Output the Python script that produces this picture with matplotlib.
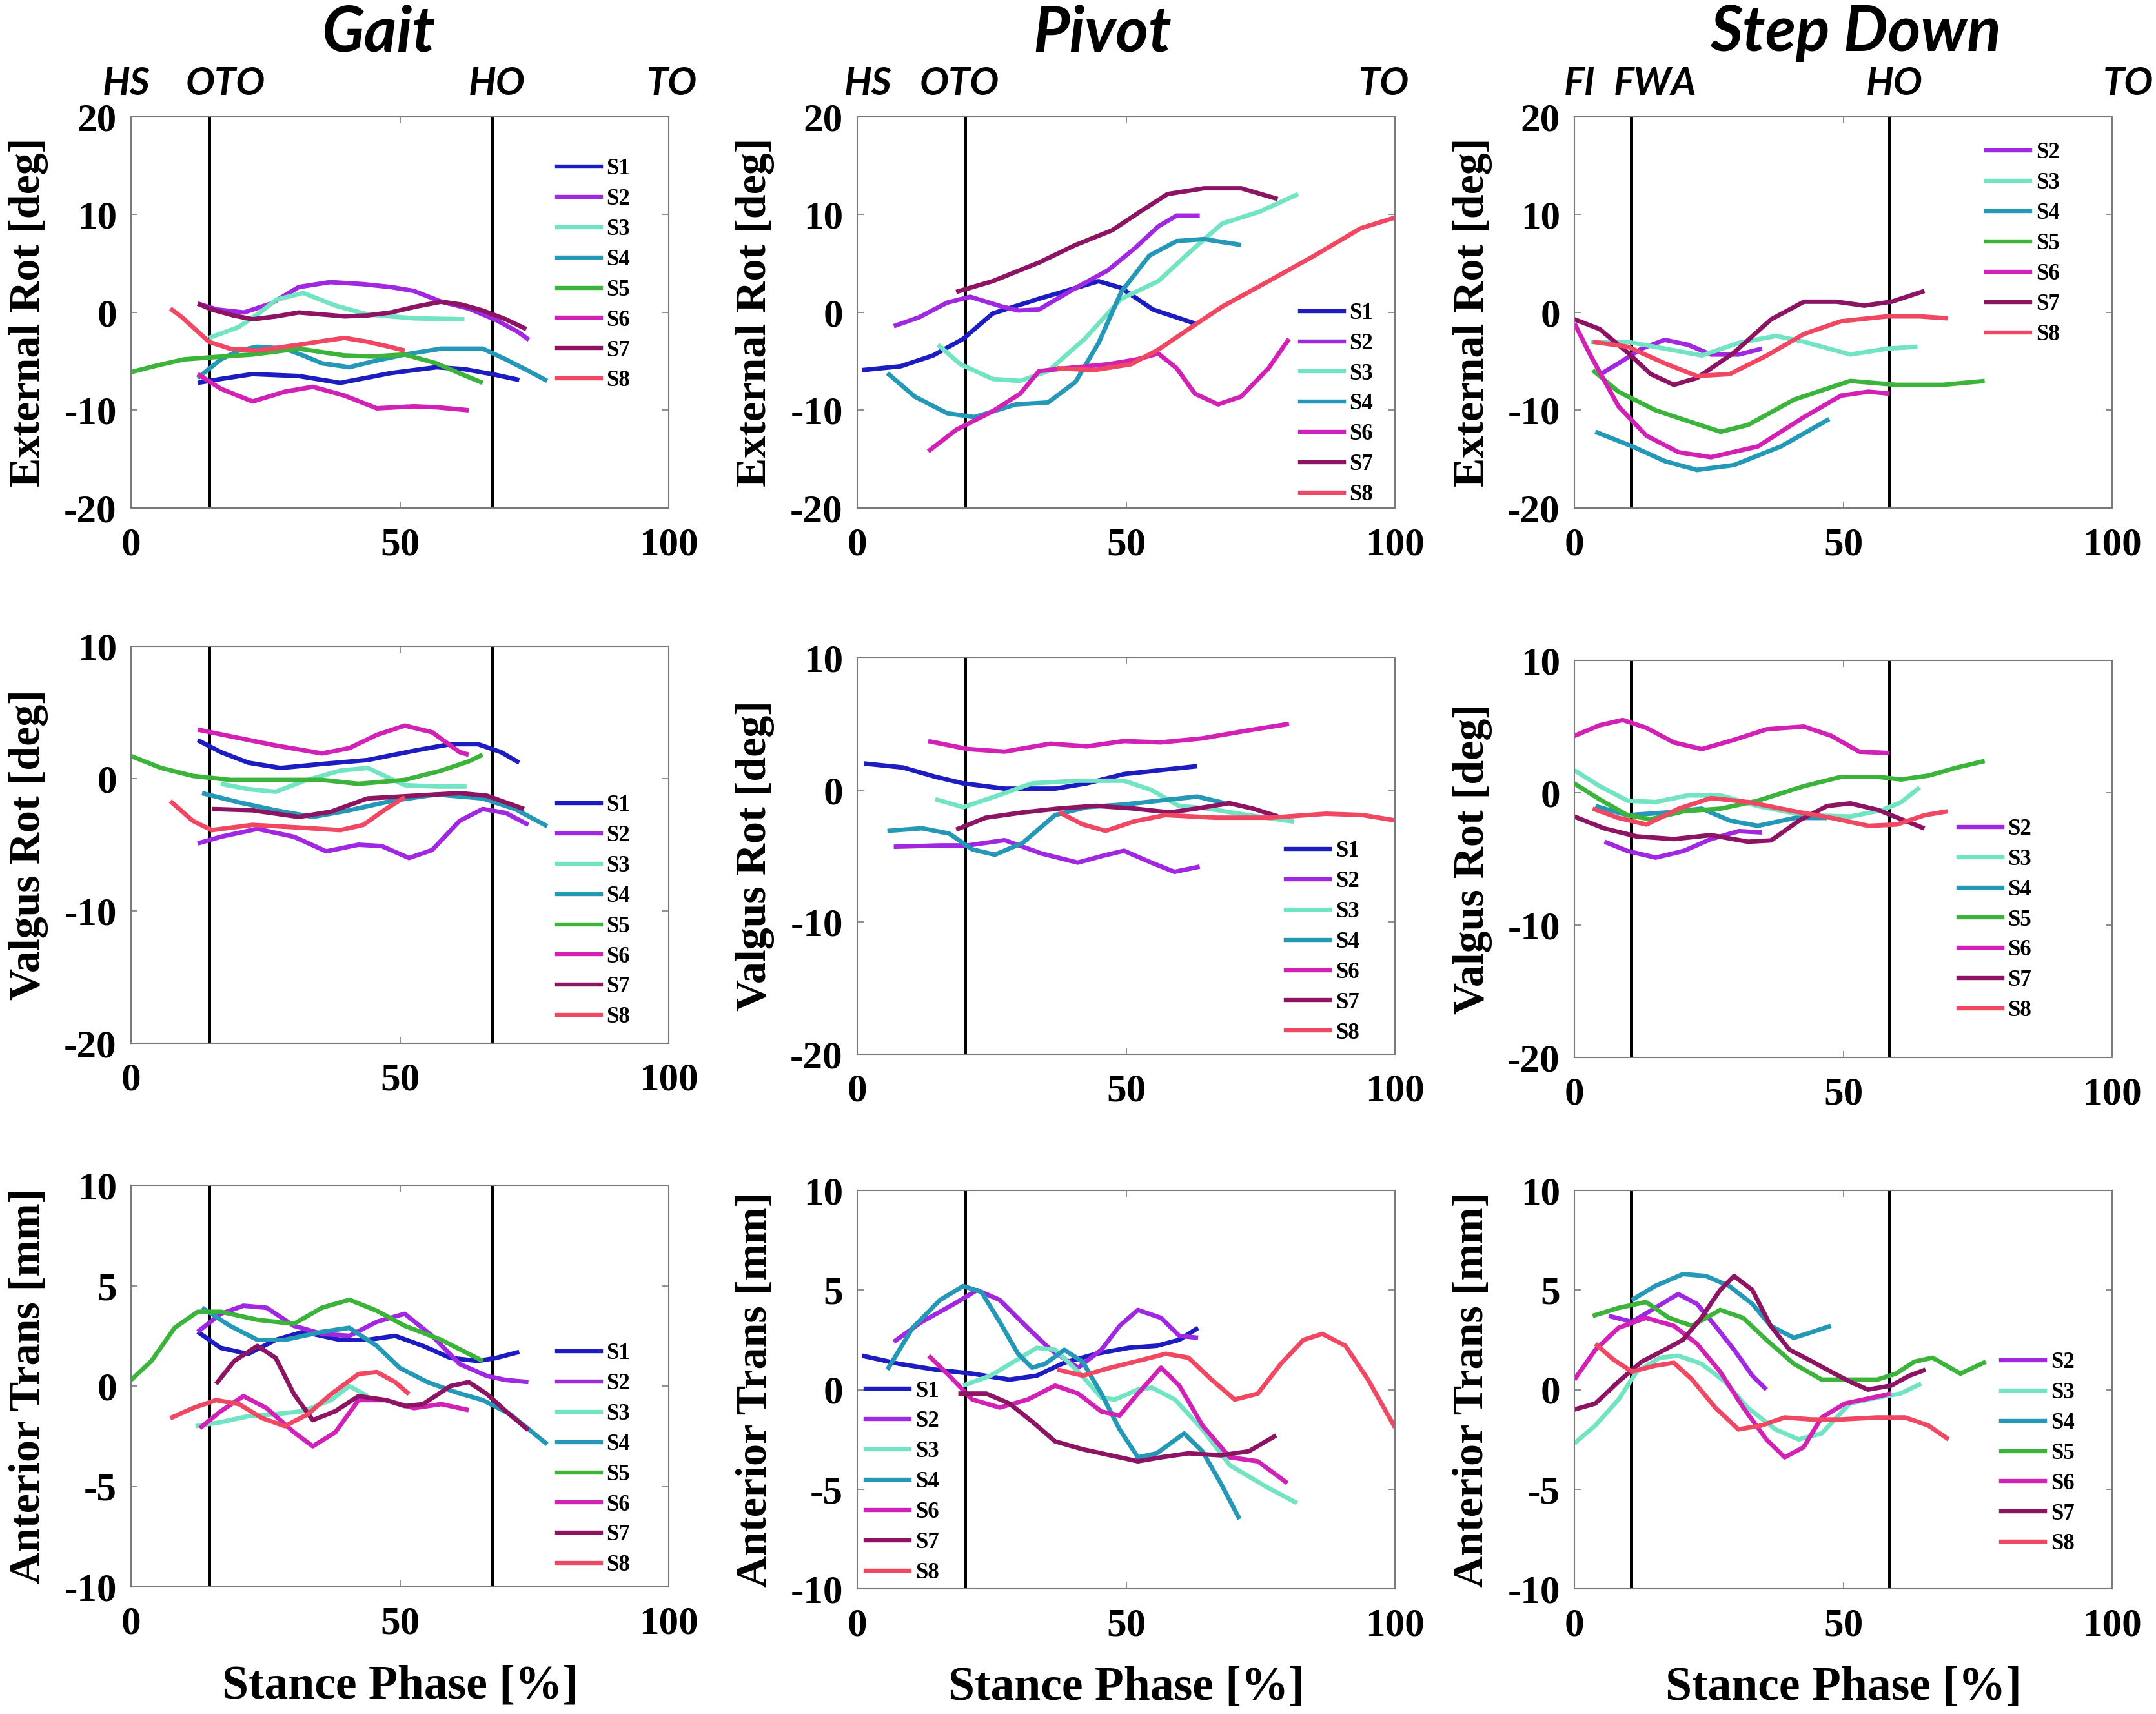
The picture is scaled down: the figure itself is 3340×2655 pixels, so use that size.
import matplotlib
matplotlib.use('Agg')
import matplotlib.pyplot as plt
from matplotlib.lines import Line2D

# ---------------- DATA ----------------
SUBJECTS = ['S1', 'S2', 'S3', 'S4', 'S5', 'S6', 'S7', 'S8']
TASKS = ['Gait', 'Pivot', 'Step Down']
MEASURES = ['External Rot [deg]', 'Valgus Rot [deg]', 'Anterior Trans [mm]']
XTICKS = [0, 50, 100]
YTICKS_ROT = [-20, -10, 0, 10, 20]
YTICKS_VAL = [-20, -10, 0, 10]
YTICKS_AT = [-10, -5, 0, 5, 10]

# event lines (stance %) and event labels
GAIT_EVENT_LINES = [14.5, 67.1]
PIVOT_EVENT_LINES = [20.0]
SD_EVENT_LINES = [10.6, 58.6]
GAIT_EVENT_NAMES = ['HS', 'OTO', 'HO', 'TO']
GAIT_EVENT_POS = [-0.9, 17.5, 68.0, 100.6]
PIVOT_EVENT_NAMES = ['HS', 'OTO', 'TO']
PIVOT_EVENT_POS = [2.0, 19.0, 98.0]
SD_EVENT_NAMES = ['FI', 'FWA', 'HO', 'TO']
SD_EVENT_POS = [1.0, 15.0, 59.5, 103.0]

# ---- Gait, External Rot ----
GAIT_ER_X_S1 = [12.4, 16.7, 22.6, 31.2, 38.9, 48.3, 56.8, 62.0, 67.1, 72.2]
GAIT_ER_Y_S1 = [-7.2, -6.8, -6.3, -6.5, -7.2, -6.2, -5.6, -5.8, -6.3, -6.9]
GAIT_ER_X_S2 = [12.4, 16.0, 21.0, 26.0, 31.2, 37.0, 43.0, 48.3, 52.6, 57.7, 62.8, 68.0, 72.0, 74.0]
GAIT_ER_Y_S2 = [0.9, 0.3, 0.0, 0.9, 2.6, 3.1, 2.9, 2.6, 2.2, 1.1, 0.4, -0.8, -2.0, -2.8]
GAIT_ER_X_S3 = [14.5, 20.0, 24.0, 27.0, 32.0, 38.0, 44.0, 52.6, 62.0]
GAIT_ER_Y_S3 = [-2.6, -1.5, 0.0, 1.3, 2.0, 0.7, -0.2, -0.6, -0.7]
GAIT_ER_X_S4 = [12.4, 16.7, 20.0, 23.5, 28.6, 32.0, 35.5, 40.6, 45.0, 50.9, 57.7, 65.4, 69.7, 74.0, 77.4]
GAIT_ER_Y_S4 = [-6.7, -4.8, -3.9, -3.5, -3.7, -4.4, -5.2, -5.6, -5.0, -4.3, -3.7, -3.7, -4.8, -6.0, -7.0]
GAIT_ER_X_S5 = [0, 5.0, 9.8, 14.5, 22.6, 31.2, 39.7, 45.0, 50.9, 56.8, 61.0, 65.4]
GAIT_ER_Y_S5 = [-6.1, -5.4, -4.8, -4.6, -4.3, -3.7, -4.4, -4.5, -4.3, -5.2, -6.2, -7.2]
GAIT_ER_X_S6 = [12.4, 16.7, 22.6, 28.6, 33.8, 39.7, 45.7, 52.6, 57.0, 62.8]
GAIT_ER_Y_S6 = [-6.3, -7.8, -9.1, -8.1, -7.6, -8.5, -9.8, -9.6, -9.7, -10.0]
GAIT_ER_X_S7 = [12.4, 15.0, 19.0, 22.6, 27.0, 31.2, 35.5, 39.7, 44.0, 48.3, 53.0, 57.7, 61.5, 65.4, 69.7, 73.5]
GAIT_ER_Y_S7 = [0.9, 0.3, -0.3, -0.7, -0.4, 0.0, -0.2, -0.4, -0.3, 0.0, 0.6, 1.1, 0.8, 0.2, -0.7, -1.7]
GAIT_ER_X_S8 = [7.3, 9.5, 11.5, 14.5, 18.4, 23.5, 31.2, 36.0, 39.7, 44.0, 48.0, 50.9]
GAIT_ER_Y_S8 = [0.4, -0.5, -1.5, -3.0, -3.7, -3.9, -3.3, -2.9, -2.6, -3.0, -3.5, -3.9]

# ---- Pivot, External Rot ----
PIV_ER_X_S1 = [0.9, 8.1, 14.1, 19.7, 25.2, 33.8, 40.0, 44.9, 49.1, 55.0, 63.2]
PIV_ER_Y_S1 = [-5.9, -5.5, -4.4, -2.7, -0.1, 1.4, 2.4, 3.2, 2.5, 0.3, -1.2]
PIV_ER_X_S2 = [6.8, 11.5, 16.7, 21.0, 26.9, 30.0, 33.8, 40.6, 46.6, 51.7, 56.0, 59.4, 63.7]
PIV_ER_Y_S2 = [-1.4, -0.5, 1.0, 1.6, 0.6, 0.2, 0.3, 2.5, 4.3, 6.6, 8.8, 9.9, 9.9]
PIV_ER_X_S3 = [15.0, 19.2, 25.2, 30.3, 35.5, 42.3, 49.1, 56.0, 61.9, 67.9, 74.8, 82.0]
PIV_ER_Y_S3 = [-3.3, -5.3, -6.8, -7.0, -6.0, -2.7, 1.4, 3.2, 6.2, 9.1, 10.3, 12.1]
PIV_ER_X_S4 = [5.6, 10.7, 16.7, 21.8, 29.5, 35.5, 40.6, 44.9, 49.1, 54.3, 59.4, 64.5, 71.4]
PIV_ER_Y_S4 = [-6.2, -8.6, -10.3, -10.7, -9.4, -9.2, -7.1, -3.1, 2.1, 5.8, 7.3, 7.5, 6.9]
PIV_ER_X_S6 = [13.2, 18.4, 25.2, 30.3, 33.8, 38.9, 46.6, 52.0, 56.0, 59.4, 62.8, 67.1, 71.4, 76.5, 80.3]
PIV_ER_Y_S6 = [-14.2, -12.0, -10.1, -8.3, -6.0, -5.7, -5.3, -4.8, -4.2, -5.7, -8.3, -9.4, -8.6, -5.7, -2.7]
PIV_ER_X_S7 = [18.4, 25.2, 33.8, 40.6, 47.4, 52.6, 57.7, 64.5, 71.4, 78.2]
PIV_ER_Y_S7 = [2.1, 3.2, 5.1, 6.9, 8.4, 10.3, 12.1, 12.7, 12.7, 11.6]
PIV_ER_X_S8 = [37.2, 44.0, 50.9, 56.0, 61.9, 67.9, 76.5, 85.0, 93.6, 100.0]
PIV_ER_Y_S8 = [-5.7, -5.9, -5.3, -3.8, -1.6, 0.6, 3.2, 5.8, 8.6, 9.7]

# ---- Step Down, External Rot ----
SD_ER_X_S2 = [4.3, 8.2, 12.5, 16.8, 21.1, 25.4, 30.6, 34.9]
SD_ER_Y_S2 = [-6.5, -5.2, -3.7, -2.8, -3.3, -4.3, -4.3, -3.7]
SD_ER_X_S3 = [3.0, 9.9, 16.8, 23.7, 30.6, 37.5, 42.7, 51.3, 58.2, 63.8]
SD_ER_Y_S3 = [-3.0, -3.0, -3.7, -4.4, -3.1, -2.4, -3.0, -4.3, -3.7, -3.5]
SD_ER_X_S4 = [3.9, 10.8, 16.8, 22.8, 29.7, 38.4, 47.4]
SD_ER_Y_S4 = [-12.2, -13.7, -15.2, -16.1, -15.6, -13.7, -10.9]
SD_ER_X_S5 = [3.4, 8.2, 15.1, 21.1, 27.2, 32.3, 40.9, 51.3, 59.9, 68.5, 76.3]
SD_ER_Y_S5 = [-5.9, -8.1, -10.0, -11.1, -12.2, -11.5, -8.9, -7.0, -7.4, -7.4, -7.0]
SD_ER_X_S6 = [0, 3.0, 8.2, 13.4, 19.4, 25.4, 34.1, 42.7, 49.6, 54.7, 58.6]
SD_ER_Y_S6 = [-1.1, -4.4, -9.6, -12.6, -14.3, -14.8, -13.7, -10.7, -8.5, -8.1, -8.3]
SD_ER_X_S7 = [0, 4.7, 9.9, 14.2, 18.5, 22.8, 29.7, 36.6, 42.7, 48.7, 53.9, 59.0, 65.1]
SD_ER_Y_S7 = [-0.7, -1.7, -4.1, -6.3, -7.4, -6.7, -4.1, -0.7, 1.1, 1.1, 0.7, 1.1, 2.2]
SD_ER_X_S8 = [3.4, 9.9, 16.8, 22.8, 28.9, 35.8, 42.7, 49.6, 58.2, 64.2, 69.4]
SD_ER_Y_S8 = [-3.0, -3.5, -5.2, -6.5, -6.3, -4.4, -2.2, -0.9, -0.4, -0.4, -0.6]

# ---- Gait, Valgus Rot ----
GAIT_VR_X_S1 = [12.4, 16.7, 21.8, 27.8, 35.5, 44.0, 52.6, 59.4, 64.5, 68.8, 72.2]
GAIT_VR_Y_S1 = [2.9, 2.0, 1.2, 0.8, 1.1, 1.4, 2.1, 2.6, 2.6, 2.0, 1.2]
GAIT_VR_X_S2 = [12.4, 16.7, 23.5, 30.3, 36.3, 42.3, 46.6, 51.7, 56.0, 61.1, 65.4, 69.7, 73.9]
GAIT_VR_Y_S2 = [-4.9, -4.4, -3.8, -4.4, -5.5, -5.0, -5.1, -6.0, -5.4, -3.2, -2.3, -2.6, -3.5]
GAIT_VR_X_S3 = [16.7, 21.8, 26.9, 32.0, 38.9, 44.0, 50.9, 56.8, 62.4]
GAIT_VR_Y_S3 = [-0.4, -0.8, -1.0, -0.2, 0.6, 0.8, -0.5, -0.6, -0.6]
GAIT_VR_X_S4 = [13.2, 20.1, 26.9, 33.8, 40.6, 48.3, 56.8, 65.4, 71.4, 77.4]
GAIT_VR_Y_S4 = [-1.1, -1.8, -2.4, -2.9, -2.4, -1.7, -1.2, -1.5, -2.3, -3.6]
GAIT_VR_X_S5 = [0, 5.6, 11.5, 18.4, 26.9, 35.5, 42.3, 50.9, 57.7, 62.8, 65.4]
GAIT_VR_Y_S5 = [1.7, 0.8, 0.2, -0.1, -0.1, -0.1, -0.4, -0.1, 0.6, 1.3, 1.8]
GAIT_VR_X_S6 = [12.4, 18.4, 26.9, 35.5, 40.6, 45.7, 50.9, 56.0, 61.1, 62.8]
GAIT_VR_Y_S6 = [3.7, 3.2, 2.5, 1.9, 2.3, 3.3, 4.0, 3.5, 2.0, 1.8]
GAIT_VR_X_S7 = [15.0, 22.6, 31.2, 37.2, 44.0, 52.6, 61.1, 66.2, 73.1]
GAIT_VR_Y_S7 = [-2.3, -2.4, -2.9, -2.5, -1.5, -1.3, -1.1, -1.3, -2.3]
GAIT_VR_X_S8 = [7.3, 11.5, 15.0, 22.6, 31.2, 38.9, 43.2, 47.4, 50.9]
GAIT_VR_Y_S8 = [-1.7, -3.2, -3.9, -3.5, -3.7, -3.9, -3.5, -2.3, -1.4]

# ---- Pivot, Valgus Rot ----
PIV_VR_X_S1 = [1.3, 8.5, 14.5, 19.7, 27.4, 36.8, 42.7, 49.6, 56.4, 63.2]
PIV_VR_Y_S1 = [2.0, 1.7, 1.0, 0.5, 0.1, 0.1, 0.5, 1.2, 1.5, 1.8]
PIV_VR_X_S2 = [6.8, 15.4, 20.5, 27.4, 34.2, 41.0, 45.5, 49.6, 54.7, 59.0, 63.7]
PIV_VR_Y_S2 = [-4.3, -4.2, -4.2, -3.8, -4.8, -5.5, -5.0, -4.6, -5.5, -6.2, -5.8]
PIV_VR_X_S3 = [14.5, 19.7, 25.6, 32.5, 41.0, 49.6, 54.7, 59.8, 65.0, 72.6, 81.2]
PIV_VR_Y_S3 = [-0.7, -1.3, -0.5, 0.5, 0.7, 0.7, 0.0, -1.2, -1.4, -1.9, -2.4]
PIV_VR_X_S4 = [5.6, 12.0, 17.1, 21.4, 25.6, 30.8, 36.8, 42.7, 49.6, 56.4, 63.2, 68.4]
PIV_VR_Y_S4 = [-3.1, -2.9, -3.3, -4.5, -4.9, -4.0, -1.9, -1.3, -1.1, -0.8, -0.5, -1.0]
PIV_VR_X_S6 = [13.2, 20.5, 27.4, 35.9, 42.7, 49.6, 56.4, 64.1, 72.6, 80.3]
PIV_VR_Y_S6 = [3.7, 3.1, 2.9, 3.5, 3.3, 3.7, 3.6, 3.9, 4.5, 5.0]
PIV_VR_X_S7 = [18.4, 23.9, 30.8, 37.6, 44.4, 51.3, 58.1, 63.2, 69.2, 73.5, 78.2]
PIV_VR_Y_S7 = [-3.0, -2.1, -1.7, -1.4, -1.2, -1.4, -1.7, -1.4, -1.0, -1.4, -2.0]
PIV_VR_X_S8 = [37.6, 41.9, 46.2, 51.3, 57.3, 66.7, 76.9, 87.2, 94.0, 100.0]
PIV_VR_Y_S8 = [-1.7, -2.6, -3.1, -2.4, -1.9, -2.1, -2.1, -1.8, -1.9, -2.3]

# ---- Step Down, Valgus Rot ----
SD_VR_X_S2 = [5.6, 9.9, 15.1, 20.3, 25.4, 30.6, 34.9]
SD_VR_Y_S2 = [-3.7, -4.4, -4.9, -4.4, -3.5, -2.9, -3.0]
SD_VR_X_S3 = [0, 4.7, 9.9, 15.1, 21.1, 27.2, 34.1, 42.7, 51.3, 57.3, 60.8, 64.2]
SD_VR_Y_S3 = [1.7, 0.5, -0.6, -0.7, -0.2, -0.2, -1.0, -1.7, -1.8, -1.3, -0.7, 0.4]
SD_VR_X_S4 = [3.9, 9.9, 16.8, 23.7, 28.9, 34.1, 41.0, 47.0]
SD_VR_Y_S4 = [-1.0, -1.7, -1.5, -1.2, -2.1, -2.5, -1.9, -1.9]
SD_VR_X_S5 = [0, 4.7, 9.9, 14.2, 20.3, 27.2, 34.1, 42.7, 49.6, 56.5, 60.8, 65.9, 71.1, 76.3]
SD_VR_Y_S5 = [0.7, -0.5, -1.7, -2.0, -1.4, -1.2, -0.6, 0.5, 1.2, 1.2, 1.0, 1.3, 1.9, 2.4]
SD_VR_X_S6 = [0, 4.7, 9.0, 13.4, 18.5, 23.7, 29.7, 35.8, 42.7, 47.8, 53.0, 58.6]
SD_VR_Y_S6 = [4.3, 5.1, 5.5, 4.9, 3.8, 3.3, 4.0, 4.8, 5.0, 4.3, 3.1, 3.0]
SD_VR_X_S7 = [0, 5.6, 11.6, 18.5, 25.4, 32.3, 36.6, 41.8, 47.0, 51.3, 56.5, 60.8, 65.1]
SD_VR_Y_S7 = [-1.8, -2.7, -3.3, -3.5, -3.2, -3.7, -3.6, -2.1, -1.0, -0.8, -1.3, -2.0, -2.7]
SD_VR_X_S8 = [3.4, 8.2, 13.4, 19.4, 25.4, 32.3, 40.9, 47.8, 54.7, 59.9, 65.1, 69.4]
SD_VR_Y_S8 = [-1.2, -1.9, -2.4, -1.2, -0.4, -0.7, -1.4, -1.9, -2.5, -2.4, -1.7, -1.4]

# ---- Gait, Anterior Trans ----
GAIT_AT_X_S1 = [12.4, 16.7, 21.8, 26.9, 32.0, 38.9, 44.0, 49.1, 54.3, 59.4, 64.5, 67.9, 72.2]
GAIT_AT_Y_S1 = [2.7, 1.9, 1.6, 2.3, 2.7, 2.3, 2.3, 2.5, 2.0, 1.4, 1.25, 1.4, 1.7]
GAIT_AT_X_S2 = [12.4, 16.7, 20.9, 25.2, 30.3, 35.5, 40.6, 45.7, 50.9, 56.0, 61.1, 66.2, 69.7, 73.9]
GAIT_AT_Y_S2 = [2.7, 3.6, 4.0, 3.9, 3.0, 2.6, 2.5, 3.2, 3.6, 2.5, 1.1, 0.5, 0.3, 0.2]
GAIT_AT_X_S3 = [12.0, 16.7, 21.8, 26.9, 32.0, 37.2, 40.6, 44.0]
GAIT_AT_Y_S3 = [-2.0, -1.8, -1.5, -1.4, -1.25, -0.7, 0.0, -0.5]
GAIT_AT_X_S4 = [13.2, 18.4, 23.5, 28.6, 35.5, 40.6, 45.7, 50.0, 55.1, 60.3, 65.4, 70.5, 77.4]
GAIT_AT_Y_S4 = [3.9, 3.0, 2.3, 2.3, 2.7, 2.9, 2.0, 0.9, 0.2, -0.3, -0.7, -1.4, -2.9]
GAIT_AT_X_S5 = [0, 3.8, 8.1, 12.4, 16.7, 23.5, 30.3, 35.5, 40.6, 45.7, 50.9, 57.7, 65.4]
GAIT_AT_Y_S5 = [0.3, 1.25, 2.9, 3.7, 3.7, 3.3, 3.1, 3.9, 4.3, 3.75, 3.0, 2.3, 1.25]
GAIT_AT_X_S6 = [12.8, 16.7, 20.9, 25.2, 30.3, 33.8, 38.0, 42.3, 47.4, 52.6, 57.7, 62.8]
GAIT_AT_Y_S6 = [-2.1, -1.25, -0.5, -1.1, -2.3, -3.0, -2.3, -0.7, -0.7, -1.1, -0.9, -1.2]
GAIT_AT_X_S7 = [15.8, 19.2, 23.5, 26.9, 30.3, 33.8, 38.0, 42.3, 47.4, 50.9, 54.3, 59.4, 62.8, 66.2, 69.7, 73.9]
GAIT_AT_Y_S7 = [0.1, 1.25, 2.0, 1.4, -0.4, -1.7, -1.25, -0.5, -0.7, -1.0, -0.9, 0.0, 0.2, -0.4, -1.25, -2.2]
GAIT_AT_X_S8 = [7.3, 11.5, 15.8, 20.1, 24.4, 28.6, 32.9, 37.2, 42.3, 45.7, 49.1, 51.7]
GAIT_AT_Y_S8 = [-1.6, -1.1, -0.7, -0.9, -1.6, -2.0, -1.4, -0.4, 0.6, 0.7, 0.2, -0.4]

# ---- Pivot, Anterior Trans ----
PIV_AT_X_S1 = [0.9, 7.7, 14.6, 21.4, 28.3, 33.4, 38.5, 44.5, 50.5, 55.7, 59.9, 63.4]
PIV_AT_Y_S1 = [1.7, 1.3, 1.0, 0.8, 0.5, 0.7, 1.35, 1.8, 2.1, 2.2, 2.5, 3.1]
PIV_AT_X_S2 = [6.8, 12.0, 18.0, 22.3, 26.5, 31.7, 36.0, 41.1, 45.4, 48.8, 52.2, 56.5, 59.9, 63.4]
PIV_AT_Y_S2 = [2.4, 3.4, 4.3, 5.0, 4.5, 3.1, 2.0, 1.1, 2.0, 3.2, 4.0, 3.6, 2.7, 2.6]
PIV_AT_X_S3 = [19.7, 24.8, 29.1, 33.4, 36.8, 41.1, 45.4, 47.9, 52.2, 54.8, 59.1, 64.2, 69.3, 76.2, 81.8]
PIV_AT_Y_S3 = [0.2, 0.7, 1.4, 2.1, 2.0, 0.9, -0.4, -0.5, 0.0, 0.1, -0.5, -2.0, -3.8, -4.9, -5.7]
PIV_AT_X_S4 = [5.6, 10.3, 15.4, 19.7, 23.1, 26.5, 29.9, 32.5, 35.0, 38.5, 41.9, 45.4, 48.8, 52.2, 55.7, 60.8, 64.2, 67.6, 71.1]
PIV_AT_Y_S4 = [1.0, 3.1, 4.5, 5.2, 4.9, 3.4, 1.8, 1.1, 1.3, 2.0, 1.4, -0.2, -2.0, -3.4, -3.2, -2.2, -3.1, -4.7, -6.5]
PIV_AT_X_S6 = [13.3, 17.1, 21.4, 26.5, 31.7, 36.8, 41.1, 45.4, 48.8, 52.2, 56.5, 59.9, 64.2, 69.3, 74.5, 80.0]
PIV_AT_Y_S6 = [1.7, 0.7, -0.5, -0.9, -0.5, 0.2, -0.2, -1.1, -1.3, -0.2, 1.1, 0.2, -1.8, -3.4, -3.6, -4.7]
PIV_AT_X_S7 = [18.8, 24.0, 28.3, 32.5, 36.8, 42.0, 47.1, 52.2, 56.5, 61.6, 67.6, 72.8, 77.9]
PIV_AT_Y_S7 = [-0.2, -0.2, -0.7, -1.6, -2.6, -3.0, -3.3, -3.6, -3.4, -3.2, -3.3, -3.1, -2.3]
PIV_AT_X_S8 = [37.2, 42.0, 47.1, 53.1, 57.4, 61.6, 65.9, 70.2, 74.5, 78.8, 83.0, 86.5, 90.8, 95.0, 100.0]
PIV_AT_Y_S8 = [1.0, 0.7, 1.1, 1.5, 1.8, 1.6, 0.5, -0.5, -0.2, 1.3, 2.5, 2.8, 2.2, 0.5, -1.9]

# ---- Step Down, Anterior Trans ----
SD_AT_X_S2 = [6.4, 10.7, 15.0, 19.3, 22.8, 26.2, 29.7, 33.1, 35.7]
SD_AT_Y_S2 = [3.7, 3.4, 4.1, 4.8, 4.3, 3.2, 2.0, 0.7, 0.0]
SD_AT_X_S3 = [0, 3.9, 8.2, 11.6, 15.9, 19.3, 23.6, 28.0, 32.2, 37.4, 41.7, 46.0, 51.2, 56.3, 60.6, 64.5]
SD_AT_Y_S3 = [-2.7, -1.8, -0.5, 0.9, 1.6, 1.7, 1.3, 0.4, -0.9, -2.0, -2.5, -2.2, -0.7, -0.4, -0.2, 0.3]
SD_AT_X_S4 = [10.7, 15.0, 20.2, 24.5, 28.8, 33.1, 36.5, 40.8, 44.3, 47.7]
SD_AT_Y_S4 = [4.5, 5.2, 5.8, 5.7, 5.2, 4.3, 3.2, 2.6, 2.9, 3.2]
SD_AT_X_S5 = [3.4, 8.2, 13.3, 17.6, 21.9, 27.1, 31.4, 35.7, 40.8, 46.0, 51.2, 56.3, 59.8, 63.2, 66.6, 71.8, 76.5]
SD_AT_Y_S5 = [3.7, 4.1, 4.4, 3.6, 3.2, 4.0, 3.6, 2.5, 1.3, 0.5, 0.5, 0.5, 0.8, 1.4, 1.6, 0.8, 1.4]
SD_AT_X_S6 = [0, 3.9, 8.2, 13.3, 18.5, 22.8, 27.1, 31.4, 35.7, 39.1, 42.6, 46.0, 50.3, 55.5, 58.9]
SD_AT_Y_S6 = [0.5, 2.0, 3.1, 3.6, 3.2, 2.3, 0.9, -0.9, -2.5, -3.4, -2.9, -1.4, -0.7, -0.4, -0.2]
SD_AT_X_S7 = [0, 3.9, 8.2, 12.5, 16.8, 20.2, 23.6, 27.1, 29.7, 33.1, 36.5, 40.0, 44.3, 47.7, 51.2, 54.6, 58.9, 62.3, 65.3]
SD_AT_Y_S7 = [-1.0, -0.7, 0.4, 1.4, 2.0, 2.5, 3.6, 5.0, 5.7, 5.0, 3.2, 2.0, 1.4, 0.9, 0.4, 0.0, 0.2, 0.7, 1.0]
SD_AT_X_S8 = [3.9, 7.3, 10.7, 15.0, 18.5, 21.9, 26.2, 30.5, 34.8, 39.1, 44.3, 49.4, 56.3, 61.5, 65.8, 69.6]
SD_AT_Y_S8 = [2.3, 1.5, 0.9, 1.2, 1.35, 0.5, -0.9, -2.0, -1.8, -1.4, -1.5, -1.5, -1.4, -1.4, -1.8, -2.5]

# ---------------- assembly of series per panel ----------------
PANEL_SERIES = [
    [  # row 0 : external rotation
        [('S1', GAIT_ER_X_S1, GAIT_ER_Y_S1), ('S2', GAIT_ER_X_S2, GAIT_ER_Y_S2), ('S3', GAIT_ER_X_S3, GAIT_ER_Y_S3),
         ('S4', GAIT_ER_X_S4, GAIT_ER_Y_S4), ('S5', GAIT_ER_X_S5, GAIT_ER_Y_S5), ('S6', GAIT_ER_X_S6, GAIT_ER_Y_S6),
         ('S7', GAIT_ER_X_S7, GAIT_ER_Y_S7), ('S8', GAIT_ER_X_S8, GAIT_ER_Y_S8)],
        [('S1', PIV_ER_X_S1, PIV_ER_Y_S1), ('S2', PIV_ER_X_S2, PIV_ER_Y_S2), ('S3', PIV_ER_X_S3, PIV_ER_Y_S3),
         ('S4', PIV_ER_X_S4, PIV_ER_Y_S4), ('S6', PIV_ER_X_S6, PIV_ER_Y_S6), ('S7', PIV_ER_X_S7, PIV_ER_Y_S7),
         ('S8', PIV_ER_X_S8, PIV_ER_Y_S8)],
        [('S2', SD_ER_X_S2, SD_ER_Y_S2), ('S3', SD_ER_X_S3, SD_ER_Y_S3), ('S4', SD_ER_X_S4, SD_ER_Y_S4),
         ('S5', SD_ER_X_S5, SD_ER_Y_S5), ('S6', SD_ER_X_S6, SD_ER_Y_S6), ('S7', SD_ER_X_S7, SD_ER_Y_S7),
         ('S8', SD_ER_X_S8, SD_ER_Y_S8)],
    ],
    [  # row 1 : valgus
        [('S1', GAIT_VR_X_S1, GAIT_VR_Y_S1), ('S2', GAIT_VR_X_S2, GAIT_VR_Y_S2), ('S3', GAIT_VR_X_S3, GAIT_VR_Y_S3),
         ('S4', GAIT_VR_X_S4, GAIT_VR_Y_S4), ('S5', GAIT_VR_X_S5, GAIT_VR_Y_S5), ('S6', GAIT_VR_X_S6, GAIT_VR_Y_S6),
         ('S7', GAIT_VR_X_S7, GAIT_VR_Y_S7), ('S8', GAIT_VR_X_S8, GAIT_VR_Y_S8)],
        [('S1', PIV_VR_X_S1, PIV_VR_Y_S1), ('S2', PIV_VR_X_S2, PIV_VR_Y_S2), ('S3', PIV_VR_X_S3, PIV_VR_Y_S3),
         ('S4', PIV_VR_X_S4, PIV_VR_Y_S4), ('S6', PIV_VR_X_S6, PIV_VR_Y_S6), ('S7', PIV_VR_X_S7, PIV_VR_Y_S7),
         ('S8', PIV_VR_X_S8, PIV_VR_Y_S8)],
        [('S2', SD_VR_X_S2, SD_VR_Y_S2), ('S3', SD_VR_X_S3, SD_VR_Y_S3), ('S4', SD_VR_X_S4, SD_VR_Y_S4),
         ('S5', SD_VR_X_S5, SD_VR_Y_S5), ('S6', SD_VR_X_S6, SD_VR_Y_S6), ('S7', SD_VR_X_S7, SD_VR_Y_S7),
         ('S8', SD_VR_X_S8, SD_VR_Y_S8)],
    ],
    [  # row 2 : anterior translation
        [('S1', GAIT_AT_X_S1, GAIT_AT_Y_S1), ('S2', GAIT_AT_X_S2, GAIT_AT_Y_S2), ('S3', GAIT_AT_X_S3, GAIT_AT_Y_S3),
         ('S4', GAIT_AT_X_S4, GAIT_AT_Y_S4), ('S5', GAIT_AT_X_S5, GAIT_AT_Y_S5), ('S6', GAIT_AT_X_S6, GAIT_AT_Y_S6),
         ('S7', GAIT_AT_X_S7, GAIT_AT_Y_S7), ('S8', GAIT_AT_X_S8, GAIT_AT_Y_S8)],
        [('S1', PIV_AT_X_S1, PIV_AT_Y_S1), ('S2', PIV_AT_X_S2, PIV_AT_Y_S2), ('S3', PIV_AT_X_S3, PIV_AT_Y_S3),
         ('S4', PIV_AT_X_S4, PIV_AT_Y_S4), ('S6', PIV_AT_X_S6, PIV_AT_Y_S6), ('S7', PIV_AT_X_S7, PIV_AT_Y_S7),
         ('S8', PIV_AT_X_S8, PIV_AT_Y_S8)],
        [('S2', SD_AT_X_S2, SD_AT_Y_S2), ('S3', SD_AT_X_S3, SD_AT_Y_S3), ('S4', SD_AT_X_S4, SD_AT_Y_S4),
         ('S5', SD_AT_X_S5, SD_AT_Y_S5), ('S6', SD_AT_X_S6, SD_AT_Y_S6), ('S7', SD_AT_X_S7, SD_AT_Y_S7),
         ('S8', SD_AT_X_S8, SD_AT_Y_S8)],
    ],
]

# ---------------- STYLE / LAYOUT ----------------
COLORS = {'S1': '#1c1cc0', 'S2': '#a028e0', 'S3': '#72e4c4', 'S4': '#2498b6',
          'S5': '#3cb43c', 'S6': '#d222b6', 'S7': '#8c1462', 'S8': '#f04862'}

W, H = 3340, 2655
COL_LEFT = [203, 1328, 2439]
COL_W = 833
ROW_TOP = [[181, 181, 181], [1001, 1019, 1023], [1836, 1844, 1844]]
ROW_BOT = [[787, 787, 787], [1616, 1633, 1638], [2458, 2461, 2461]]
YLIMS = [(-20, 20), (-20, 10), (-10, 10)]
YTICKS = [YTICKS_ROT, YTICKS_VAL, YTICKS_AT]
# legend: (x axes-frac of handle start, y axes-frac of first entry centre)
LEG_POS = [[(0.792, 0.871), (0.823, 0.502), (0.766, 0.912)],
           [(0.792, 0.603), (0.797, 0.516), (0.714, 0.579)],
           [(0.792, 0.585), (0.016, 0.500), (0.794, 0.572)]]
EVENT_LINES = [GAIT_EVENT_LINES, PIVOT_EVENT_LINES, SD_EVENT_LINES]
EVENT_NAMES = [GAIT_EVENT_NAMES, PIVOT_EVENT_NAMES, SD_EVENT_NAMES]
EVENT_POS = [GAIT_EVENT_POS, PIVOT_EVENT_POS, SD_EVENT_POS]
TITLE_X = [586, 1708, 2875]

SERIF = ['Liberation Serif', 'DejaVu Serif']
SANS = ['Lato', 'Open Sans', 'DejaVu Sans']
LEG_FS = 25

plt.rcParams['font.family'] = SERIF
plt.rcParams['font.weight'] = 'bold'
plt.rcParams['axes.unicode_minus'] = False

fig = plt.figure(figsize=(W / 100, H / 100), dpi=100)
fig.patch.set_facecolor('white')

SPINE_C = '#7a7a7a'
for r in range(3):
    for c in range(3):
        top, bot = ROW_TOP[r][c], ROW_BOT[r][c]
        rect = [COL_LEFT[c] / W, 1 - bot / H, COL_W / W, (bot - top) / H]
        ax = fig.add_axes(rect)
        ax.set_xlim(0, 100)
        ax.set_ylim(*YLIMS[r])
        ax.set_xticks(XTICKS)
        ax.set_yticks(YTICKS[r])
        ax.tick_params(direction='in', length=7, width=1.2, color=SPINE_C,
                       top=True, right=True, labelsize=44)
        ax.tick_params(axis='x', pad=21)
        ax.tick_params(axis='y', pad=16)
        for lab in ax.get_xticklabels() + ax.get_yticklabels():
            lab.set_fontweight('bold')
        for sp in ax.spines.values():
            sp.set_color(SPINE_C)
            sp.set_linewidth(1.5)

        for xv in EVENT_LINES[c]:
            ax.axvline(xv, color='black', lw=3.6, zorder=1)

        handles = []
        labels = []
        for name, xs, ys in PANEL_SERIES[r][c]:
            ax.plot(xs, ys, color=COLORS[name], lw=5.0, solid_capstyle='butt',
                    solid_joinstyle='round', zorder=2)
            handles.append(Line2D([], [], color=COLORS[name], lw=4.6))
            labels.append(name)

        axh = bot - top
        lx, ly = LEG_POS[r][c]
        ax.legend(handles, labels, loc='upper left',
                  bbox_to_anchor=(lx, ly + 14.0 / axh), frameon=False,
                  prop={'family': SERIF, 'weight': 'bold', 'size': LEG_FS},
                  handlelength=1.96, handletextpad=0.25, labelspacing=0.40,
                  borderpad=0, borderaxespad=0)

        ax.text(-158.0 / COL_W, 0.5, MEASURES[r], transform=ax.transAxes,
                rotation=90, ha='center', va='center', fontsize=49,
                fontweight='bold', family=SERIF)

        if r == 0:
            for nm, xp in zip(EVENT_NAMES[c], EVENT_POS[c]):
                ax.text(xp, 1 + 34.0 / axh, nm,
                        transform=ax.get_xaxis_transform(), ha='center',
                        va='baseline', fontsize=43, fontweight='bold',
                        style='italic', family=SANS)
        if r == 2:
            ax.text(0.5, -172.0 / axh, 'Stance Phase [%]', transform=ax.transAxes,
                    ha='center', va='baseline', fontsize=53, fontweight='bold',
                    family=SERIF)

for c in range(3):
    fig.text(TITLE_X[c] / W, 1 - 79.0 / H, TASKS[c], ha='center', va='baseline',
             fontsize=70, fontweight='bold', style='italic', family=SANS)

fig.savefig('out.png', dpi=100, facecolor='white')
